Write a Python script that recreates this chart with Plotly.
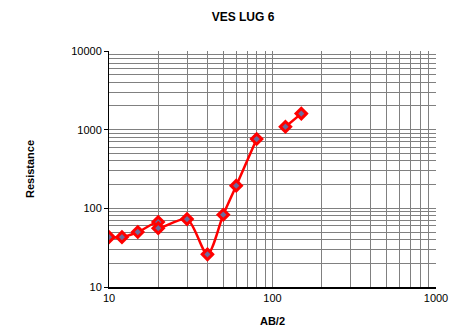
import plotly.graph_objects as go

ab2 = [10, 12, 15, 20, 20, 30, 40, 50, 60, 80, 100, 120, 150]
resistance = [43, 43, 50, 67, 56, 73, 26, 83, 194, 760, None, 1090, 1600]

x_ticks = [10, 100, 1000]
y_ticks = [10, 100, 1000, 10000]
x_minor = [m * d for d in (10, 100) for m in range(2, 10)]
y_minor = [m * d for d in (10, 100, 1000) for m in range(2, 10)]

fig = go.Figure()
fig.add_trace(go.Scatter(
    x=ab2, y=resistance, mode="lines+markers",
    line=dict(color="#ff0000", width=2.5, shape="spline", smoothing=0.8),
    marker=dict(symbol="diamond", size=8, color="#6c6c9c",
                line=dict(color="#ff0000", width=3)),
    connectgaps=False, showlegend=False,
))

font = "Liberation Sans, Arial, sans-serif"
fig.update_layout(
    width=470, height=334,
    margin=dict(l=101, r=42, t=43, b=55),
    paper_bgcolor="white", plot_bgcolor="white",
    title=dict(text="<b>VES LUG 6</b>", x=0.5, xanchor="center", y=0.973, yanchor="middle",
               font=dict(family=font, size=12, color="black")),
    font=dict(family=font, size=11, color="black"),
)
fig.update_xaxes(
    type="log", range=[1, 3], tickvals=x_ticks, ticktext=[str(v) for v in x_ticks],
    showgrid=True, gridcolor="#808080", gridwidth=1,
    minor=dict(tickvals=x_minor, showgrid=True, gridcolor="#808080", gridwidth=1),
    showline=True, linecolor="black", linewidth=2, mirror=False,
    ticks="", ticklen=0,
    title=dict(text="<b>AB/2</b>", font=dict(family=font, size=11), standoff=14),
    zeroline=False,
)
fig.update_yaxes(
    type="log", range=[1, 4], tickvals=y_ticks, ticktext=[str(v) for v in y_ticks],
    showgrid=True, gridcolor="#808080", gridwidth=1,
    minor=dict(tickvals=y_minor, showgrid=True, gridcolor="#808080", gridwidth=1),
    showline=True, linecolor="black", linewidth=1,
    ticks="outside", ticklen=4, tickcolor="black",
    title=dict(text="<b>Resistance</b>", font=dict(family=font, size=11), standoff=34),
    zeroline=False,
)
fig.add_shape(type="line", xref="paper", yref="paper", x0=-0.318, x1=-0.318, y0=-0.25, y1=1.25,
              line=dict(color="#c8c8c8", width=1))
fig.write_html("out.html")
